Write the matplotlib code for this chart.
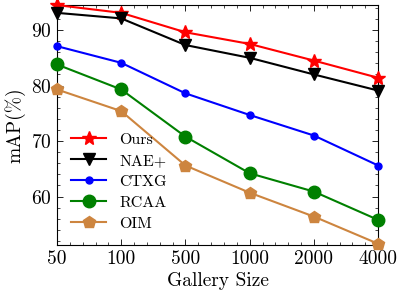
import matplotlib
matplotlib.use("Agg")
import matplotlib.pyplot as plt
from matplotlib.ticker import MultipleLocator

plt.rcParams['font.family'] = 'serif'
plt.rcParams['font.serif'] = ['cmr10']
plt.rcParams['mathtext.fontset'] = 'cm'
plt.rcParams['axes.formatter.use_mathtext'] = True

# gallery sizes on an evenly spaced axis
gallery = ['50', '100', '500', '1000', '2000', '4000']
ours = [94.5, 93.1, 89.6, 87.5, 84.5, 81.4]
nae = [93.1, 92.1, 87.3, 85.0, 82.0, 79.1]
ctxg = [87.1, 84.1, 78.6, 74.7, 71.0, 65.6]
rcaa = [83.8, 79.3, 70.8, 64.2, 60.9, 55.8]
oim = [79.3, 75.4, 65.6, 60.7, 56.4, 51.5]

x = range(len(gallery))

fig = plt.figure(figsize=(4.04, 2.99), dpi=100)
ax = fig.add_axes([0.141, 0.181, 0.795, 0.802])

ax.plot(x, ours, color='red', marker='*', markersize=10, lw=1.5, label='Ours', clip_on=False, zorder=5)
ax.plot(x, nae, color='black', marker='v', markersize=9, lw=1.5, label='NAE+', clip_on=False, zorder=5)
ax.plot(x, ctxg, color='blue', marker='o', markersize=5, lw=1.5, label='CTXG', clip_on=False, zorder=5)
ax.plot(x, rcaa, color='green', marker='o', markersize=9, lw=1.5, label='RCAA', clip_on=False, zorder=5)
ax.plot(x, oim, color='peru', marker='p', markersize=9, lw=1.5, label='OIM', clip_on=False, zorder=5)

ax.set_xlim(0, 5)
ax.set_ylim(51.3, 94.5)
ax.set_xticks(list(x))
ax.set_xticklabels(gallery)
ax.xaxis.set_minor_locator(MultipleLocator(0.2))
ax.yaxis.set_major_locator(MultipleLocator(10))
ax.yaxis.set_minor_locator(MultipleLocator(2))
ax.tick_params(which='both', direction='in', top=True, right=True, labelsize=14)
ax.tick_params(which='major', length=4, width=0.6)
ax.tick_params(which='minor', length=2, width=0.5)
for s in ax.spines.values():
    s.set_linewidth(0.8)

ax.set_xlabel('Gallery Size', fontsize=14, labelpad=3)
ax.set_ylabel('mAP(%)', fontsize=14, labelpad=4)
ax.legend(loc='lower left', frameon=False, fontsize=11.5, handlelength=2.2,
          labelspacing=0.42, bbox_to_anchor=(0.0, 0.0))

fig.savefig('out.png', dpi=100)
